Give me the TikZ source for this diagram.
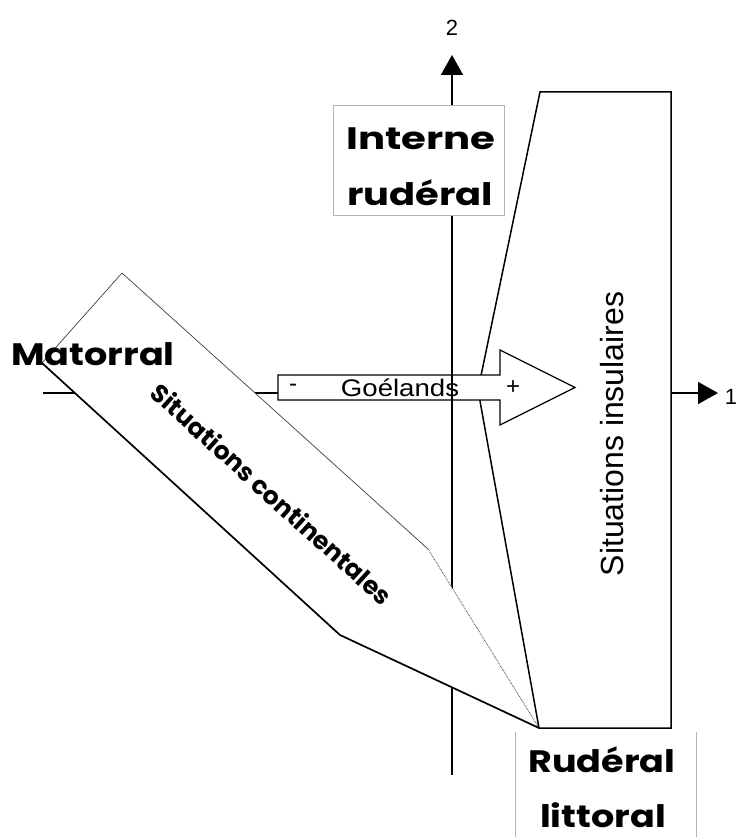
\documentclass[tikz,border=0pt]{standalone}
\usepackage{fontspec}
\setmainfont{Liberation Sans}
\newfontfamily\comicfont{Poppins}
\usetikzlibrary{arrows.meta}
\begin{document}
\begin{tikzpicture}[x=1pt,y=-1pt,
  axis/.style={line width=1.6pt,-{Triangle[length=20pt,width=22pt]}},
  frame/.style={draw=black!30,line width=0.8pt,fill=white},
  bigword/.style={font=\comicfont\bfseries\fontsize{31}{36}\selectfont,xscale=1.18},
  region/.style={fill=white,draw=black,line width=1.5pt,line join=miter},
  thinedge/.style={draw=black!75,line width=0.7pt},
  thickedge/.style={draw=black,line width=1.7pt},
  plain/.style={font=\fontsize{24}{28}\selectfont},
  axislabel/.style={font=\fontsize{22}{26}\selectfont,inner sep=1pt}]
\useasboundingbox (0,0) rectangle (738,837);

% axis end points
\coordinate (xs) at (43,393);
\coordinate (xe) at (718,393);
\coordinate (ys) at (452,775);
\coordinate (ye) at (452,55);

% horizontal axis (behind everything else)
\draw[axis] (xs) -- (xe);
\node[axislabel] (one) at (731,397) {1};
\node[axislabel] (two) at (452,28) {2};

% island situations
\coordinate (i1) at (540,92);
\coordinate (i2) at (671,92);
\coordinate (i3) at (671,728);
\coordinate (i4) at (539,728);
\coordinate (i5) at (478,390);
\draw[region] (i1) -- (i2) -- (i3) -- (i4) -- (i5) -- cycle;
\node[plain,font=\fontsize{32}{36}\selectfont,rotate=90] (insul) at (612,434) {Situations insulaires};

% gull arrow
\coordinate (g1) at (278,375);
\coordinate (g2) at (500,375);
\coordinate (g3) at (500,350);
\coordinate (g4) at (575,387.5);
\coordinate (g5) at (500,425);
\coordinate (g6) at (500,400);
\coordinate (g7) at (278,400);
\draw[fill=white,line width=1.3pt] (g1) -- (g2) -- (g3) -- (g4) -- (g5) -- (g6) -- (g7) -- cycle;
\node[plain,xscale=1.15] (gull) at (400,387.5) {Goélands};
\node[plain] (minus) at (293,387.5) {-};
\node[plain] (plus) at (513,387.5) {+};

% vertical axis
\draw[axis] (ys) -- (ye);

% continental situations
\coordinate (c1) at (122,273);
\coordinate (c2) at (428,549);
\coordinate (c3) at (539,728);
\coordinate (c4) at (340,635);
\coordinate (c5) at (42,363);
\fill[white] (c1) -- (c2) -- (c3) -- (c4) -- (c5) -- cycle;
\draw[thinedge] (c5) -- (c1) -- (c2);
\draw[thinedge,densely dotted,line width=0.9pt] (c2) -- (c3);
\draw[thickedge] (c3) -- (c4) -- (c5);
\node[font=\comicfont\bfseries\fontsize{25}{30}\selectfont,rotate=-42.2] (cont) at (272,494) {Situations continentales};

% corner labels
\node[frame,minimum width=171pt,minimum height=110pt] (intbox) at (418.5,160) {};
\node[bigword,xscale=1.1] (int1) at (421,139) {Interne};
\node[bigword,xscale=1.05] (int2) at (420,193) {rudéral};

\coordinate (rl) at (515,732);
\coordinate (rr) at (696,732);
\draw[draw=black!30,line width=0.8pt] (rl) -- (515,837);
\draw[draw=black!30,line width=0.8pt] (rr) -- (696,837);
\node[bigword] (rud1) at (602,760) {Rudéral};
\node[bigword] (rud2) at (603,815) {littoral};

\node[bigword] (mat) at (93,354) {Matorral};
\end{tikzpicture}
\end{document}
